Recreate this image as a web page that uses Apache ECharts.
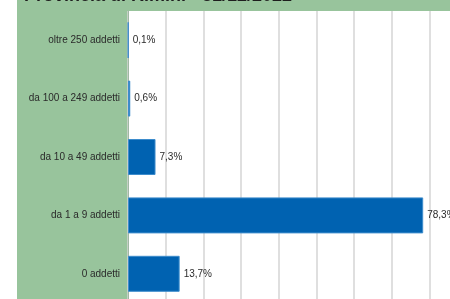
<!DOCTYPE html>
<html>
<head>
<meta charset="utf-8">
<script src="https://cdn.jsdelivr.net/npm/echarts@6/dist/echarts.min.js"></script>
<style>
  html, body { margin: 0; padding: 0; background: #fff; }
  #chart { width: 450px; height: 299px; }
</style>
</head>
<body>
<div id="chart"></div>
<script>
// classi di addetti, dall'alto in basso
const categories = ["oltre 250 addetti", "da 100 a 249 addetti", "da 10 a 49 addetti", "da 1 a 9 addetti", "0 addetti"];
const shares = [0.1, 0.6, 7.3, 78.3, 13.7];
const titleText = "Provincia di Rimini - 31/12/2022";

const green = "#98c49c";
const labelFont = "'Liberation Sans', Arial, sans-serif";
const chart = echarts.init(document.getElementById("chart"));

chart.setOption({
  backgroundColor: "#fff",
  animation: false,
  graphic: [
    { type: "rect", z: -10, shape: { x: 17, y: 0, width: 111, height: 299 }, style: { fill: green } },
    { type: "rect", z: -10, shape: { x: 17, y: 0, width: 433, height: 11 }, style: { fill: green } },
    {
      type: "text", left: 24, top: -13, z: 10,
      style: { text: titleText, fill: "#1e1e1e", font: "bold 18px 'Liberation Sans', Arial, sans-serif" }
    }
  ],
  grid: { left: 128, top: 11, width: 377, height: 292, outerBoundsMode: "none", containLabel: false },
  xAxis: {
    type: "value",
    min: 0,
    max: 100,
    interval: 10,
    axisLabel: { show: false },
    axisLine: { show: false },
    axisTick: { show: false },
    splitLine: { show: true, lineStyle: { color: "#d4d4d4", width: 1.5 } }
  },
  yAxis: {
    type: "category",
    inverse: true,
    data: categories,
    axisLine: { show: true, lineStyle: { color: "#a0b8a4", width: 1 } },
    axisTick: { show: false },
    axisLabel: {
      color: "#2a2a2a",
      fontFamily: labelFont,
      fontSize: 10,
      margin: 8
    }
  },
  series: [{
    type: "bar",
    data: shares,
    barWidth: 36,
    itemStyle: { color: "#0062b1", borderColor: "#3d8ccc", borderWidth: 1 },
    label: {
      show: true,
      position: "right",
      distance: 4,
      color: "#2a2a2a",
      fontFamily: labelFont,
      fontSize: 10,
      formatter: p => p.value.toFixed(1).replace(".", ",") + "%"
    }
  }]
});
</script>
</body>
</html>
